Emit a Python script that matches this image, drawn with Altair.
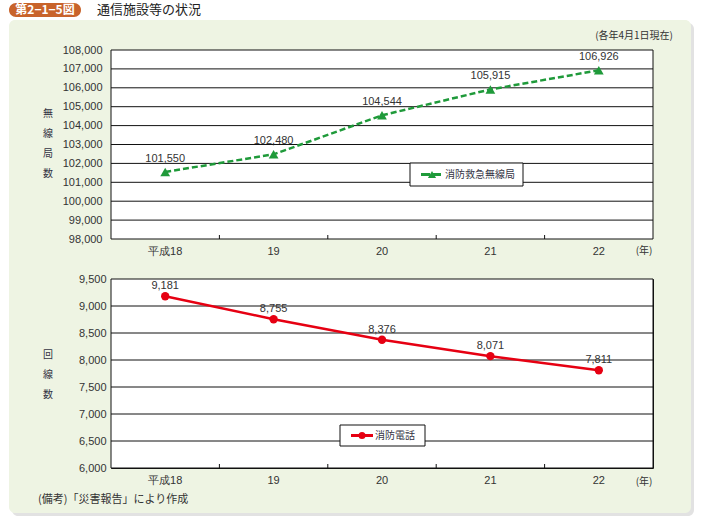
import altair as alt
import pandas as pd

# ---- data ----
years = ["平成18", "19", "20", "21", "22"]
radio_stations = [101550, 102480, 104544, 105915, 106926]
phone_lines = [9181, 8755, 8376, 8071, 7811]
radio_ticks = list(range(98000, 108001, 1000))
phone_ticks = list(range(6000, 9501, 500))

W, H = 542, 189
GREEN = "#1f9a3a"
RED = "#e60012"
PANEL = "#eef4e3"
NUM_FONT = "Liberation Sans"
JP_FONT = "Noto Sans CJK JP"
TXT = "#333333"

one = pd.DataFrame({"a": [0]})


def xenc(bp=None):
    kw = {}
    if bp is not None:
        kw["bandPosition"] = bp
    return alt.X(
        "year:N",
        scale=alt.Scale(domain=years, paddingInner=0, paddingOuter=0),
        axis=alt.Axis(title=None, labelAngle=0, ticks=False, domain=False,
                      labelPadding=6, labelFontSize=11, labelColor=TXT,
                      labelFont=NUM_FONT, zindex=1),
        **kw,
    )


def yenc(domain, ticks, pad):
    return alt.Y(
        "v:Q",
        scale=alt.Scale(domain=domain, nice=False, zero=False),
        axis=alt.Axis(title=None, values=ticks, format=",d", ticks=False,
                      domain=False, grid=False, labelPadding=pad,
                      labelFontSize=11, labelColor=TXT, labelFont=NUM_FONT,
                      zindex=1),
    )


def vtext(txt, x, y, size=10, align="center", color=TXT, font=JP_FONT, weight="normal"):
    return alt.Chart(one).mark_text(
        text=txt, align=align, baseline="middle", fontSize=size, color=color,
        font=font, fontWeight=weight
    ).encode(x=alt.value(x), y=alt.value(y))


def vrect(x, x2, y, y2, **kw):
    return alt.Chart(one).mark_rect(**kw).encode(
        x=alt.value(x), x2=alt.value(x2), y=alt.value(y), y2=alt.value(y2))


def panel_chart(values, domain, ticks, pad, color, shape, dash, label_dy,
                ytitle, ytitle_y0, legend_box, legend_text, extra_back, extra_front,
                pt_size):
    df = pd.DataFrame({"year": years, "v": values,
                       "label": [f"{v:,}" for v in values]})
    grid_df = pd.DataFrame({"v": ticks[1:-1]})
    bnd_df = pd.DataFrame({"year": years[1:]})
    ye = yenc(domain, ticks, pad)

    layers = list(extra_back)
    layers.append(vrect(0, W, 0, H, fill="white"))
    layers.append(alt.Chart(grid_df).mark_rule(color="#111", strokeWidth=1).encode(y=ye))
    layers.append(alt.Chart(bnd_df).mark_rule(color="#111", strokeWidth=1).encode(
        x=xenc(0), y=alt.value(H - 4), y2=alt.value(H)))
    layers.append(vrect(0, W, 0, H, fill=None, fillOpacity=0, stroke="#111", strokeWidth=1))
    line_kw = dict(color=color, strokeWidth=2.5)
    if dash:
        line_kw["strokeDash"] = dash
    layers.append(alt.Chart(df).mark_line(**line_kw).encode(x=xenc(), y=ye))
    layers.append(alt.Chart(df).mark_point(shape=shape, filled=True, size=pt_size,
                                           color=color, opacity=1).encode(x=xenc(), y=ye))
    layers.append(alt.Chart(df).mark_text(dy=label_dy, fontSize=11, color=TXT,
                                          font=NUM_FONT).encode(x=xenc(), y=ye, text="label:N"))
    # legend
    bx, bx2, by, by2 = legend_box
    cy = (by + by2) / 2
    layers.append(vrect(bx, bx2, by, by2, fill="white", stroke="#111", strokeWidth=1))
    rule_kw = dict(color=color, strokeWidth=3)
    if dash:
        rule_kw["strokeDash"] = [9, 2]
    layers.append(alt.Chart(one).mark_rule(**rule_kw).encode(
        x=alt.value(bx + 11), x2=alt.value(bx + 33), y=alt.value(cy), y2=alt.value(cy)))
    layers.append(alt.Chart(one).mark_point(shape=shape, filled=True, size=pt_size * 0.7,
                                            color=color, opacity=1).encode(
        x=alt.value(bx + 22), y=alt.value(cy)))
    layers.append(vtext(legend_text, bx + 35, cy, size=10, align="left", color="#333344"))
    # y title (stacked characters)
    for i, ch in enumerate(ytitle):
        layers.append(vtext(ch, -63, ytitle_y0 + 20 * i, size=10, color="#333344"))
    layers.extend(extra_front)
    return alt.layer(*layers).properties(width=W, height=H)


top_back = [
    vrect(-99, 583, -27, 466, fill="#d6d6d6", opacity=0.7, cornerRadius=6),
    vrect(-102, 580, -30, 463, fill=PANEL, cornerRadius=6),
    vrect(-102, -30, -47, -33, fill="#c8632b", cornerRadius=7),
    vtext("第2−1−5図", -66, -40, size=12, color="white", weight="bold"),
    vtext("通信施設等の状況", -14, -40, size=13, align="left", color="#222222"),
    vtext("(各年4月1日現在)", 562, -14, size=10, align="right"),
]
top_front = [vtext("(年)", 533, 201, size=10)]

bottom_front = [
    vtext("(年)", 533, 203, size=10),
    vtext("(備考)「災害報告」により作成", -73, 221, size=11, align="left"),
]

top = panel_chart(radio_stations, [98000, 108000], radio_ticks, 9, GREEN,
                  "triangle-up", [6, 3], -13, "無線局数", 64,
                  (299, 412, 113, 136), "消防救急無線局", top_back, top_front, 95)
bottom = panel_chart(phone_lines, [6000, 9500], phone_ticks, 5, RED,
                     "circle", None, -10, "回線数", 76,
                     (229, 314, 146, 167), "消防電話", [], bottom_front, 70)

chart = alt.vconcat(top, bottom, spacing=40, bounds="flush").resolve_scale(
    y="independent"
).configure_view(
    fill="white", stroke="#111", strokeWidth=1
).properties(
    padding={"left": 8, "top": 2, "right": 5, "bottom": 5},
    background="white",
)

chart.save("out.html", embed_options={"renderer": "svg", "actions": False})
